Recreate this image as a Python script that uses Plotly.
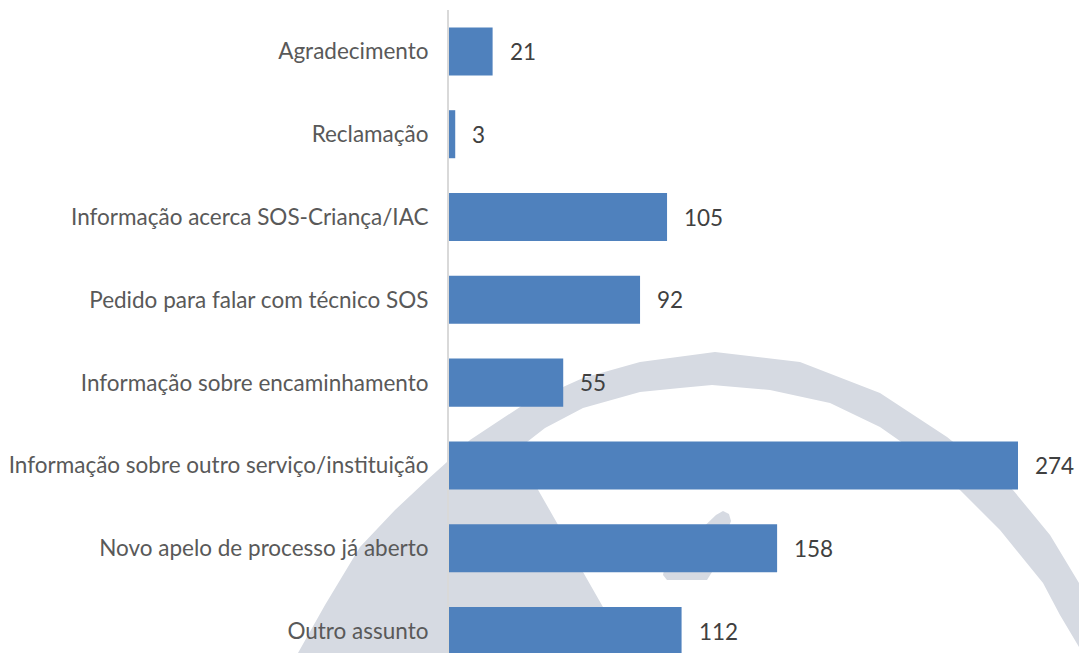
import plotly.graph_objects as go

categories = [
    "Agradecimento",
    "Reclamação",
    "Informação acerca SOS-Criança/IAC",
    "Pedido para falar com técnico SOS",
    "Informação sobre encaminhamento",
    "Informação sobre outro serviço/instituição",
    "Novo apelo de processo já aberto",
    "Outro assunto",
]
values = [21, 3, 105, 92, 55, 274, 158, 112]

SW, SH = 1079, 653          # figure size
L, T = 449, 10              # plot area left/top
PW, PH = SW - L, SH - T

def px(x, y):
    return (x - L) / PW, (SH - y) / PH

def path(points):
    pts = [px(x, y) for x, y in points]
    return "M " + " L ".join(f"{a:.4f},{b:.4f}" for a, b in pts) + " Z"

arc_pts = [(298, 653), (325, 605), (360, 547), (395, 510), (427, 480), (447, 462), (470, 440),
           (523, 405), (583, 378), (640, 362), (715, 352), (800, 362), (880, 393), (947, 437),
           (1013, 490), (1050, 535), (1079, 583), (1079, 647), (1060, 615), (1043, 583),
           (1000, 530), (957, 487), (920, 455), (880, 427), (830, 403), (770, 390), (712, 385),
           (680, 388), (640, 392), (583, 408), (545, 428), (527, 442), (528, 465), (537, 488),
           (557, 523), (583, 572), (603, 607), (629, 653)]
hand_pts = [(663, 575), (667, 580), (707, 580), (712, 572), (731, 521), (729, 514), (723, 511),
            (716, 515), (690, 540), (664, 570)]

wm = "#D6DAE2"
FONT = "Lato"
FS = 22.5

fig = go.Figure(go.Bar(
    x=values, y=categories, orientation="h",
    marker=dict(color="#4F81BD", line=dict(width=0)),
    hoverinfo="skip",
))

for v, c in zip(values, categories):
    fig.add_annotation(x=v, y=c, text=str(v), showarrow=False, xanchor="left",
                       xshift=15, font=dict(family=FONT, size=FS, color="#404040"))

fig.update_layout(
    width=SW, height=SH,
    margin=dict(l=L, r=0, t=T, b=0),
    paper_bgcolor="white", plot_bgcolor="rgba(0,0,0,0)",
    bargap=0.42,
    showlegend=False,
    font=dict(family=FONT, size=FS, color="#595959"),
    shapes=[
        dict(type="path", path=path(arc_pts), xref="paper", yref="paper",
             fillcolor=wm, line=dict(width=0), layer="below"),
        dict(type="path", path=path(hand_pts), xref="paper", yref="paper",
             fillcolor=wm, line=dict(width=0), layer="below"),
    ],
)
fig.update_xaxes(range=[0, PW / ((1018 - 449) / 274)], visible=False, showgrid=False)
fig.update_yaxes(categoryorder="array", categoryarray=categories,
                 range=[7.265, -0.5], showline=True, linecolor="#D9D9D9", linewidth=2,
                 showgrid=False, ticks="", ticklabelstandoff=14, automargin=False)

fig.write_html(
    "out.html",
    config={"displayModeBar": False},
    post_script="document.body.style.margin='0';document.body.style.overflow='hidden';",
)
